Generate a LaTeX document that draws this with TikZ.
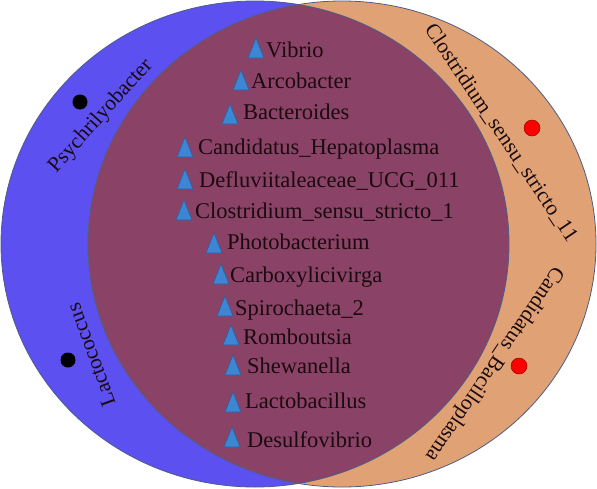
\documentclass[tikz,border=0pt]{standalone}
\usepackage{fontspec}
\setmainfont{Liberation Serif}
\definecolor{cblue}{HTML}{5C50F0}
\definecolor{corange}{HTML}{E0A274}
\definecolor{cpurple}{HTML}{8A4366}
\definecolor{cline}{HTML}{4F5C84}
\definecolor{ctri}{HTML}{3D86D4}
\definecolor{ctriline}{HTML}{2C5E9C}
\definecolor{ctext}{HTML}{1A0A10}
\begin{document}
\begin{tikzpicture}[x=1pt,y=-1pt,
  lbl/.style={inner sep=0pt, text=ctext, font=\fontsize{22.5}{27}\selectfont},
  olbl/.style={inner sep=0pt, text=ctext, font=\fontsize{21.5}{26}\selectfont},
  tri/.style={fill=ctri, draw=ctriline, line width=0.6pt, line join=round},
  bdot/.style={circle, fill=black, minimum size=15pt, inner sep=0pt},
  rdot/.style={circle, fill=red, draw=red!60!black, line width=0.5pt, minimum size=16pt, inner sep=0pt},
  rim/.style={draw=cline, line width=0.8pt}]
\useasboundingbox (0,0) rectangle (597,488);
\fill[white] (0,0) rectangle (597,488);
% sets
\fill[cblue] (255,244) ellipse [x radius=254, y radius=243];
\fill[corange] (342,244) ellipse [x radius=254, y radius=243];
\begin{scope}
  \clip (255,244) ellipse [x radius=254, y radius=243];
  \fill[cpurple] (342,244) ellipse [x radius=254, y radius=243];
\end{scope}
\draw[rim] (255,244) ellipse [x radius=254, y radius=243];
\draw[rim] (342,244) ellipse [x radius=254, y radius=243];
% shared members
\newcommand{\trimark}[2]{\filldraw[tri] (#1,#2) -- ++(16,0) -- ++(-8,-20) -- cycle;}
\trimark{248}{58}  \node[lbl, anchor=base west] (t1)  at (266,57)  {Vibrio};
\trimark{233}{90}  \node[lbl, anchor=base west] (t2)  at (251,88)  {Arcobacter};
\trimark{222}{124} \node[lbl, anchor=base west] (t3)  at (243,119) {Bacteroides};
\trimark{177}{157} \node[lbl, anchor=base west] (t4)  at (198,154) {Candidatus\_Hepatoplasma};
\trimark{177}{189} \node[lbl, anchor=base west] (t5)  at (199,187) {Defluviitaleaceae\_UCG\_011};
\trimark{176}{220} \node[lbl, anchor=base west] (t6)  at (195,218) {Clostridium\_sensu\_stricto\_1};
\trimark{206}{253} \node[lbl, anchor=base west] (t7)  at (227,249) {Photobacterium};
\trimark{213}{284} \node[lbl, anchor=base west] (t8)  at (230,282) {Carboxylicivirga};
\trimark{217}{316} \node[lbl, anchor=base west] (t9)  at (235,315) {Spirochaeta\_2};
\trimark{223}{345} \node[lbl, anchor=base west] (t10) at (243,344) {Romboutsia};
\trimark{225}{375} \node[lbl, anchor=base west] (t11) at (247,373) {Shewanella};
\trimark{225}{412} \node[lbl, anchor=base west] (t12) at (245,408) {Lactobacillus};
\trimark{224}{447} \node[lbl, anchor=base west] (t13) at (247,447) {Desulfovibrio};
% left-only members
\node[bdot] (d1) at (80,102) {};
\node[olbl, rotate=48] (p1) at (101,116) {Psychrilyobacter};
\node[bdot] (d2) at (68,360) {};
\node[olbl, rotate=110] (p2) at (91,355) {Lactococcus};
% right-only members
\node[rdot] (d3) at (532,128) {};
\node[olbl, rotate=-56] (p3) at (501,133) {Clostridium\_sensu\_stricto\_11};
\node[rdot] (d4) at (519,366) {};
\node[olbl, rotate=-124] (p4) at (494,364) {Candidatus\_Bacilloplasma};
\end{tikzpicture}
\end{document}
